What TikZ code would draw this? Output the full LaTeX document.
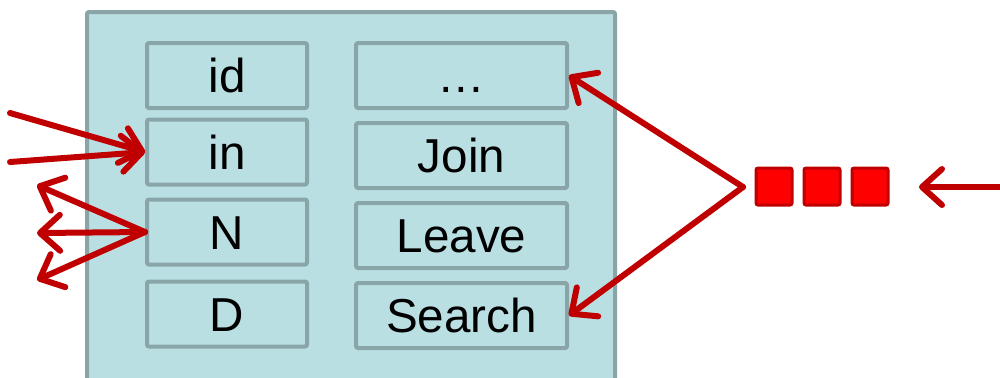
\documentclass[tikz,border=0pt]{standalone}
\usepackage{fontspec}
\setmainfont{Liberation Sans}
\usetikzlibrary{arrows.meta}
\definecolor{boxfill}{RGB}{186,223,227}
\definecolor{boxline}{RGB}{138,165,168}
\definecolor{arrred}{RGB}{192,0,0}
\definecolor{sqred}{RGB}{255,0,0}
\tikzset{
  field/.style={draw=boxline, fill=boxfill, line width=2pt, rounded corners=1pt,
    minimum height=32.5pt, inner sep=0pt, text height=17.2pt, text depth=0pt,
    font=\fontsize{23.8}{28}\selectfont},
  lfield/.style={field, minimum width=80pt},
  rfield/.style={field, minimum width=105.5pt},
  sq/.style={draw=arrred, fill=sqred, line width=1.5pt, rounded corners=1pt,
    minimum width=18pt, minimum height=18.5pt, inner sep=0pt},
  arr/.style={draw=arrred, line width=3pt, line cap=round,
    -{Straight Barb[length=10pt,width=18pt,round]}}
}
\begin{document}
\begin{tikzpicture}[x=0.5pt,y=-0.5pt]
\useasboundingbox (0,0) rectangle (1000,377);
\clip (0,0) rectangle (1000,377);
\node[draw=boxline, fill=boxfill, line width=2pt, rounded corners=1pt, anchor=north west,
  minimum width=264pt, minimum height=200pt, inner sep=0pt] (outer) at (85,10) {};
\node[lfield] (id) at (227,75.5) {id};
\node[lfield] (in) at (227,152) {in};
\node[lfield] (N) at (227,232) {N};
\node[lfield] (D) at (227,314) {D};
\node[rfield] (dots) at (461.5,75.5) {…};
\node[rfield] (join) at (461.5,155.5) {Join};
\node[rfield] (leave) at (461.5,235.5) {Leave};
\node[rfield] (search) at (461.5,315.5) {Search};
\node[sq] (s1) at (774,186.5) {};
\node[sq] (s2) at (822,186.5) {};
\node[sq] (s3) at (870,186.5) {};
\coordinate (a1) at (10,113);
\coordinate (a2) at (10,162);
\coordinate (b1) at (37,185);
\coordinate (b2) at (37,233);
\coordinate (b3) at (37,280);
\coordinate (apex) at (743,187);
\coordinate (rstart) at (1000,187);
\coordinate (rend) at (919,187);
\draw[arr] (a1) -- (in.west);
\draw[arr] (a2) -- (in.west);
\draw[arr] (N.west) -- (b1);
\draw[arr] (N.west) -- (b2);
\draw[arr] (N.west) -- (b3);
\draw[arr] (apex) -- (dots.east);
\draw[arr] (apex) -- (search.east);
\draw[arr] (rstart) -- (rend);
\end{tikzpicture}
\end{document}
